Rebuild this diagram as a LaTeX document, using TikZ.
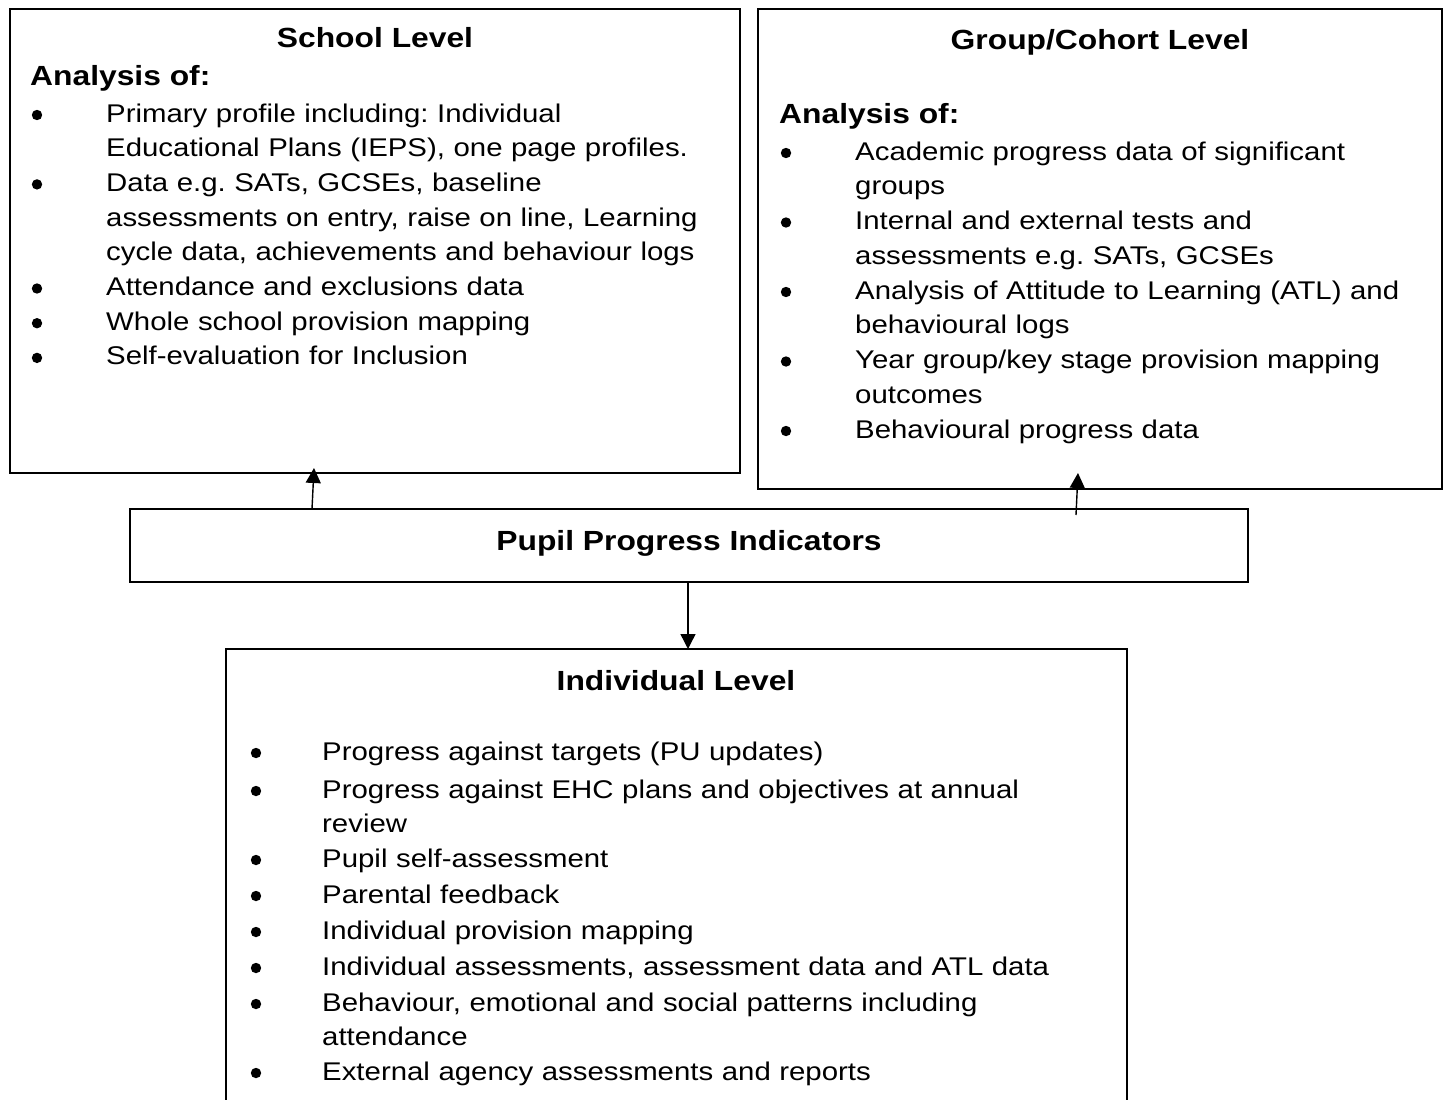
\documentclass[tikz,border=0pt]{standalone}
\usepackage{fontspec}
\setmainfont[FakeStretch=1.148]{Liberation Sans}
\usetikzlibrary{arrows.meta}
\frenchspacing

\newcommand{\bodyfont}{\fontsize{25.6}{34.7}\selectfont}
\newcommand{\headfont}{\fontsize{27.7}{32}\selectfont\bfseries}

\begin{document}
\begin{tikzpicture}[x=1pt, y=-1pt,
	lvlbox/.style={draw, line width=1.8pt, outer sep=0pt, inner sep=0pt, anchor=north west},
	lvlhead/.style={font=\headfont, inner sep=0pt, anchor=base},
	lvltext/.style={font=\bodyfont, inner sep=0pt, anchor=base west, text width=760pt, align=left},
	arr/.style={line width=1.4pt, -{Triangle[width=15pt,length=15pt]}}]
	\useasboundingbox (0,0) rectangle (1449,1100);
	% boxes
	\node [lvlbox, minimum width=730pt, minimum height=464pt] (school) at (10,9) {};
	\node [lvlbox, minimum width=684pt, minimum height=480pt] (group) at (758,9) {};
	\node [lvlbox, minimum width=1118pt, minimum height=73pt] (ppi) at (130,509) {};
	\node [lvlbox, minimum width=901pt, minimum height=470pt] (indiv) at (226,649) {};
	% school level
	\node [lvlhead] (schoolhead) at (375,47) {School Level};
	\node [lvlhead, anchor=base west] (schoolof) at (30,85) {Analysis of:};
	\node [lvltext] (s1) at (106,122) {Primary profile including: Individual\\Educational Plans (IEPS), one page profiles.};
	\node [lvltext] (s2) at (106,191.4) {Data e.g. SATs, GCSEs, baseline\\assessments on entry, raise on line, Learning\\cycle data, achievements and behaviour logs};
	\node [lvltext] (s3) at (106,295.5) {Attendance and exclusions data};
	\node [lvltext] (s4) at (106,330.2) {Whole school provision mapping};
	\node [lvltext] (s5) at (106,364.9) {Self-evaluation for Inclusion};
	\foreach \y in {122,191.4,295.5,330.2,364.9}
		\fill (37,\y-7) circle (5.2pt);
	% group/cohort level
	\node [lvlhead] (grouphead) at (1100,49) {Group/Cohort Level};
	\node [lvlhead, anchor=base west] (groupof) at (779,123) {Analysis of:};
	\node [lvltext] (g1) at (855,160) {Academic progress data of significant\\groups};
	\node [lvltext] (g2) at (855,229.5) {Internal and external tests and\\assessments e.g. SATs, GCSEs};
	\node [lvltext] (g3) at (855,299) {Analysis of Attitude to Learning (ATL) and\\behavioural logs};
	\node [lvltext] (g4) at (855,368.5) {Year group/key stage provision mapping\\outcomes};
	\node [lvltext] (g5) at (855,438) {Behavioural progress data};
	\foreach \y in {160,229.5,299,368.5,438}
		\fill (786,\y-7) circle (5.2pt);
	% pupil progress indicators
	\node [lvlhead] (ppihead) at (689,550) {Pupil Progress Indicators};
	% individual level
	\node [lvlhead] (indivhead) at (676,690) {Individual Level};
	\node [lvltext] (i1) at (322,760) {Progress against targets (PU updates)};
	\node [lvltext] (i2) at (322,798) {Progress against EHC plans and objectives at annual\\review};
	\node [lvltext] (i3) at (322,867) {Pupil self-assessment};
	\node [lvltext] (i4) at (322,903) {Parental feedback};
	\node [lvltext] (i5) at (322,939) {Individual provision mapping};
	\node [lvltext] (i6) at (322,975) {Individual assessments, assessment data and ATL data};
	\node [lvltext] (i7) at (322,1011) {Behaviour, emotional and social patterns including\\attendance};
	\node [lvltext] (i8) at (322,1080) {External agency assessments and reports};
	\foreach \y in {760,798,867,903,939,975,1011,1080}
		\fill (256,\y-7) circle (5.2pt);
	% arrows
	\draw [arr] ([xshift=182pt]ppi.north west) -- ([xshift=304pt, yshift=5pt]school.south west);
	\draw [arr] ([xshift=946pt, yshift=-6pt]ppi.north west) -- ([xshift=320pt, yshift=16pt]group.south west);
	\draw [arr] ([xshift=558pt]ppi.south west) -- ([xshift=462pt]indiv.north west);
\end{tikzpicture}
\end{document}
